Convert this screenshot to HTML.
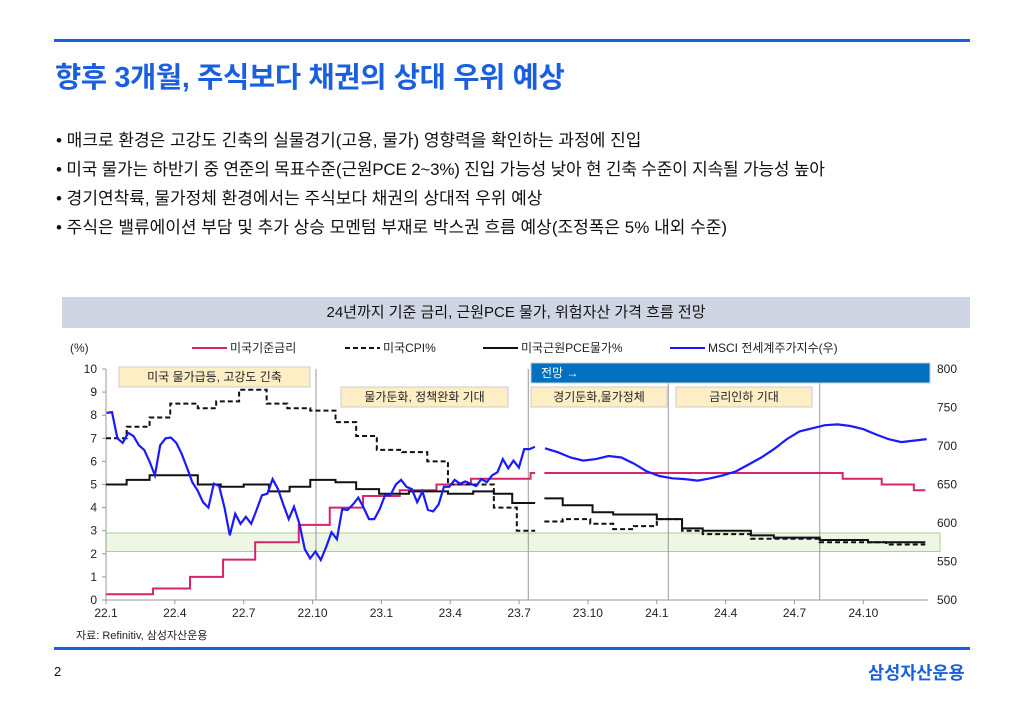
<!DOCTYPE html>
<html><head><meta charset="utf-8">
<style>
body{margin:0;width:1024px;height:709px;background:#fff;position:relative;overflow:hidden;font-family:"Liberation Sans","Noto Sans CJK KR",sans-serif;}
.abs{position:absolute;}
.bul{position:absolute;left:56px;font-size:17px;color:#111;white-space:nowrap;}
</style></head><body>
<div class="abs" style="left:54px;top:39px;width:916px;height:3px;background:#1a5fe0"></div>
<div class="abs" style="left:55px;top:55px;font-size:28.5px;color:#1a5fe0;font-weight:bold;white-space:nowrap;letter-spacing:-0.3px">향후 3개월, 주식보다 채권의 상대 우위 예상</div>
<div class="bul" style="top:126px">• 매크로 환경은 고강도 긴축의 실물경기(고용, 물가) 영향력을 확인하는 과정에 진입</div>
<div class="bul" style="top:155px;letter-spacing:-0.2px">• 미국 물가는 하반기 중 연준의 목표수준(근원PCE 2~3%) 진입 가능성 낮아 현 긴축 수준이 지속될 가능성 높아</div>
<div class="bul" style="top:184px">• 경기연착륙, 물가정체 환경에서는 주식보다 채권의 상대적 우위 예상</div>
<div class="bul" style="top:213px">• 주식은 밸류에이션 부담 및 추가 상승 모멘텀 부재로 박스권 흐름 예상(조정폭은 5% 내외 수준)</div>
<div class="abs" style="left:62px;top:297px;width:908px;height:31px;background:#cfd5e3;font-size:15px;text-align:center;line-height:31px;color:#111">24년까지 기준 금리, 근원PCE 물가, 위험자산 가격 흐름 전망</div>
<svg class="abs" style="left:0;top:0" width="1024" height="709" id="chart"></svg>
<div class="abs" style="left:76px;top:627px;font-size:11px;color:#222">자료: Refinitiv, 삼성자산운용</div>
<div class="abs" style="left:54px;top:647px;width:916px;height:3px;background:#1a5fe0"></div>
<div class="abs" style="left:54px;top:664px;font-size:13px;color:#111">2</div>
<div class="abs" style="left:868px;top:660px;font-size:17.5px;color:#1a5fe0;font-weight:bold">삼성자산운용</div>
<script>
// data
const xTickLabels=["22.1","22.4","22.7","22.10","23.1","23.4","23.7","23.10","24.1","24.4","24.7","24.10"];
const yLeftTicks=[0,1,2,3,4,5,6,7,8,9,10];
const yRightTicks=[500,550,600,650,700,750,800];
// step series: [start month, value] (month 0 = 2022.01)
const fedHistT=[0,2.05,3.66,5.1,6.5,8.4,9.75,11.2,12.8,14.4,15.9,18.5,18.7];
const fedHistV=[0.25,0.5,1.0,1.75,2.5,3.25,4.0,4.5,4.75,5.0,5.25,5.5,5.5];
const fedFcT=[19.1,32.1,33.8,35.2,35.7];
const fedFcV=[5.5,5.25,5.0,4.75,4.75];
const cpiHistT=[0,0.9,1.9,2.8,4.0,4.8,5.8,7.0,7.9,8.9,10.0,10.9,11.8,12.9,14.0,14.9,16.9,17.9,18.7];
const cpiHistV=[7.0,7.5,7.9,8.5,8.3,8.6,9.1,8.5,8.3,8.2,7.7,7.1,6.5,6.4,6.0,5.0,4.0,3.0,3.0];
const cpiFcT=[19.1,19.9,21.1,22.1,23.0,24.0,25.1,26.0,28.1,31.1,34.0,35.7];
const cpiFcV=[3.4,3.5,3.3,3.07,3.2,3.5,3.0,2.85,2.65,2.5,2.4,2.4];
const pceHistT=[0,0.9,1.9,4.0,5.0,6.0,7.1,8.0,8.9,10.0,10.9,11.9,13.2,14.9,16.0,16.9,17.7,18.7];
const pceHistV=[5.0,5.2,5.4,5.0,4.9,5.0,4.7,4.9,5.2,5.1,4.8,4.6,4.7,4.6,4.7,4.6,4.2,4.2];
const pceFcT=[19.1,19.9,21.2,22.1,24.0,25.1,26.0,28.1,29.1,31.1,33.2,35.7];
const pceFcV=[4.4,4.1,3.8,3.7,3.5,3.1,3.0,2.8,2.7,2.6,2.5,2.5];
const msciHistStart=0.03, msciHistEnd=18.69;
const msciHist=[743,744,710,704,717,713,701,695,680,662,701,710,711,704,690,672,653,642,627,620,651,648,620,584,612,599,608,599,617,636,638,657,644,624,605,621,599,566,554,563,552,569,588,579,618,617,624,633,620,605,605,618,636,636,650,656,647,644,627,641,617,615,624,647,647,656,651,654,651,648,657,653,662,666,683,671,681,672,696,696,699];
const msciFcStart=19.13, msciFcEnd=35.76;
const msciFc=[697,692,685,681,683,687,685,677,667,661,658,657,655,658,662,667,676,685,696,709,719,723,727,728,726,722,715,709,705,707,709];

const svg=document.getElementById('chart');
const NS='http://www.w3.org/2000/svg';
const X=t=>106+t*22.95;
const YL=v=>600-v*23.1;
const YR=v=>600-(v-500)*(231/300);
function mk(tag,attrs,parent){const e=document.createElementNS(NS,tag);for(const k in attrs)e.setAttribute(k,attrs[k]);(parent||svg).appendChild(e);return e;}
function txt(s,x,y,attrs){const e=mk('text',Object.assign({x:x,y:y,'font-size':12,fill:'#222','font-family':'"Liberation Sans","Noto Sans CJK KR",sans-serif'},attrs||{}));e.textContent=s;return e;}
function stepPath(T,V){let d='';for(let i=0;i<T.length;i++){const x=X(T[i]),y=YL(V[i]);if(i===0)d+='M'+x+','+y;else d+='H'+x+'V'+y;}return d;}
function linePath(arr,s,e,yf){let d='';const n=arr.length;arr.forEach((v,i)=>{const t=s+(e-s)*i/(n-1);d+=(i?'L':'M')+X(t).toFixed(1)+','+yf(v).toFixed(1);});return d;}

// green band
let band=mk('rect',{x:106,y:YL(2.9),width:834,height:YL(2.1)-YL(2.9),fill:'#eef7e6',stroke:'#a9d18e','stroke-width':1});

// vertical separators
[9.15,18.4,24.5,31.1].forEach(t=>{const l=mk('line',{x1:X(t),x2:X(t),y1:369,y2:600,stroke:'#999','stroke-width':1});
});
// axes
let ax=mk('line',{x1:106,x2:928,y1:600,y2:600,stroke:'#999'});
let ay=mk('line',{x1:106,x2:106,y1:369,y2:600,stroke:'#999'});
xTickLabels.forEach((s,i)=>{mk('line',{x1:X(i*3),x2:X(i*3),y1:600,y2:604,stroke:'#999'});
const t=txt(s,X(i*3),617,{'text-anchor':'middle'});});
yLeftTicks.forEach(v=>{mk('line',{x1:102,x2:106,y1:YL(v),y2:YL(v),stroke:'#999'});
const t=txt(String(v),97,YL(v)+4,{'text-anchor':'end'});});
yRightTicks.forEach(v=>{const t=txt(String(v),937,YR(v)+4);});
let yt=txt('(%)',70,352);

// annotation boxes
function box(x,y,w,h,fill,label,color,name,anchor){const g=mk('g',{});
mk('rect',{x:x,y:y,width:w,height:h,fill:fill,stroke:'#ccc'},g);
const t=txt(label,anchor==='start'?x+10:x+w/2,y+h/2+4,{'text-anchor':anchor||'middle',fill:color});g.appendChild(t);}
box(119,367,191,20,'#fdeec6','미국 물가급등, 고강도 긴축','#222','annotation-inflation');
box(341,387,167,20,'#fdeec6','물가둔화, 정책완화 기대','#222','annotation-disinflation');
box(531,387,136,20,'#fdeec6','경기둔화,물가정체','#222','annotation-stagnation');
box(676,387,136,20,'#fdeec6','금리인하 기대','#222','annotation-rate-cut');
box(531,363,399,20,'#0070c0','전망 →','#fff','forecast-banner','start');

// series
function series(d,color,dash,w,name){const p=mk('path',{d:d,fill:'none',stroke:color,'stroke-width':w,'stroke-dasharray':dash||'none'});
}
series(stepPath(fedHistT,fedHistV),'#d6246e',null,2,'fed-rate-history');
series(stepPath(fedFcT,fedFcV),'#d6246e',null,2,'fed-rate-forecast');
series(stepPath(cpiHistT,cpiHistV),'#111','5,3',2,'cpi-history');
series(stepPath(cpiFcT,cpiFcV),'#111','5,3',2,'cpi-forecast');
series(stepPath(pceHistT,pceHistV),'#111',null,2,'core-pce-history');
series(stepPath(pceFcT,pceFcV),'#111',null,2,'core-pce-forecast');
series(linePath(msciHist,msciHistStart,msciHistEnd,YR),'#1a1aff',null,2.2,'msci-history');
series(linePath(msciFc,msciFcStart,msciFcEnd,YR),'#1a1aff',null,2.2,'msci-forecast');

// legend
function leg(x,color,dash,label,name){const g=mk('g',{});
mk('line',{x1:x,x2:x+35,y1:348,y2:348,stroke:color,'stroke-width':2,'stroke-dasharray':dash||'none'},g);
g.appendChild(txt(label,x+38,352));}
leg(192,'#d6246e',null,'미국기준금리','legend-fed-rate');
leg(345,'#111','5,3','미국CPI%','legend-cpi');
leg(483,'#111',null,'미국근원PCE물가%','legend-core-pce');
leg(670,'#1a1aff',null,'MSCI 전세계주가지수(우)','legend-msci');
</script>
</body></html>
